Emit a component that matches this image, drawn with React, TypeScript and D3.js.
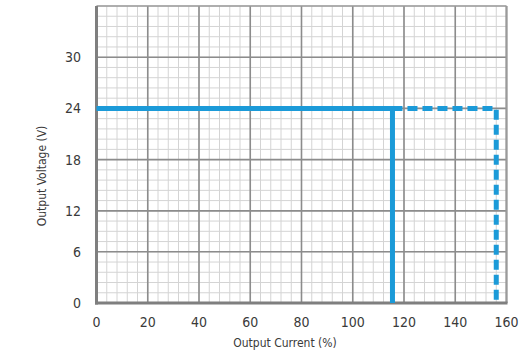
import React, { useEffect, useRef } from "react";
import * as d3 from "d3";

// axis ticks
const currentTicks = [0, 20, 40, 60, 80, 100, 120, 140, 160];
const voltageTicks = [0, 6, 12, 18, 24, 30];
// the original chart spaces its voltage grid unevenly (grid divisions per tick)
const voltageKnots = [0, 6, 12, 36];
const voltageDivs = [0, 5, 9, 29];

// output characteristic: normal limit (solid) and extended limit (dashed)
const limitCurrent = [0, 115.5, 115.5];
const limitVoltage = [24, 24, 0];
const extCurrent = [115.5, 156, 156];
const extVoltage = [24, 24, 0];

const W = 530, H = 355;
const FONT = "'DejaVu Sans', sans-serif";
const BLUE = "#1b9ad8";

export default function App() {
  const ref = useRef<SVGSVGElement>(null);

  useEffect(() => {
    const svg = d3.select(ref.current);
    svg.selectAll("*").remove();

    const left = 96.5, right = 506.5, top = 6, bottom = 303;
    const nDiv = 29;

    const x = d3.scaleLinear().domain([0, 160]).range([left, right]);
    const div = d3.scaleLinear().domain([0, nDiv]).range([bottom, top]);
    const y = d3.scaleLinear().domain(voltageKnots).range(voltageDivs.map((d) => div(d)));

    const g = svg.append("g");

    // minor grid
    g.selectAll(".vminor")
      .data(d3.range(0, 161, 4))
      .enter()
      .append("line")
      .attr("x1", (d) => x(d))
      .attr("x2", (d) => x(d))
      .attr("y1", top)
      .attr("y2", bottom)
      .attr("stroke", "#d4d4d4")
      .attr("stroke-width", 1);

    g.selectAll(".hminor")
      .data(d3.range(0, nDiv + 1))
      .enter()
      .append("line")
      .attr("x1", left)
      .attr("x2", right)
      .attr("y1", (d) => div(d))
      .attr("y2", (d) => div(d))
      .attr("stroke", "#d4d4d4")
      .attr("stroke-width", 1);

    // major grid
    g.selectAll(".vmajor")
      .data(currentTicks)
      .enter()
      .append("line")
      .attr("x1", (d) => x(d))
      .attr("x2", (d) => x(d))
      .attr("y1", top)
      .attr("y2", bottom)
      .attr("stroke", "#8c8c8c")
      .attr("stroke-width", 1.6);

    g.selectAll(".hmajor")
      .data(voltageTicks)
      .enter()
      .append("line")
      .attr("x1", left)
      .attr("x2", right)
      .attr("y1", (d) => y(d))
      .attr("y2", (d) => y(d))
      .attr("stroke", "#8c8c8c")
      .attr("stroke-width", 1.6);

    // frame
    g.append("line")
      .attr("x1", left).attr("x2", right)
      .attr("y1", top).attr("y2", top)
      .attr("stroke", "#9a9a9a").attr("stroke-width", 1.5);
    g.append("line")
      .attr("x1", right).attr("x2", right)
      .attr("y1", top).attr("y2", bottom)
      .attr("stroke", "#9a9a9a").attr("stroke-width", 2);
    g.append("line")
      .attr("x1", left).attr("x2", left)
      .attr("y1", top).attr("y2", bottom + 1.5)
      .attr("stroke", "#7f7f7f").attr("stroke-width", 3);
    g.append("line")
      .attr("x1", left - 1.5).attr("x2", right + 1)
      .attr("y1", bottom).attr("y2", bottom)
      .attr("stroke", "#7f7f7f").attr("stroke-width", 3);

    // curves
    const solid = limitCurrent.map((c, i) => [x(c), y(limitVoltage[i])] as [number, number]);
    const dashed = extCurrent.map((c, i) => [x(c), y(extVoltage[i])] as [number, number]);
    const path = d3.line();

    g.append("path")
      .attr("d", path(dashed))
      .attr("fill", "none")
      .attr("stroke", BLUE)
      .attr("stroke-width", 5)
      .attr("stroke-dasharray", "10,5");

    g.append("path")
      .attr("d", path(solid))
      .attr("fill", "none")
      .attr("stroke", BLUE)
      .attr("stroke-width", 5);

    // tick labels
    const label = (sel: any, size: number) =>
      sel
        .attr("font-family", FONT)
        .attr("font-stretch", "condensed")
        .attr("font-size", size)
        .attr("fill", "#3a3a3a");

    g.selectAll(".xlab")
      .data(currentTicks)
      .enter()
      .append("text")
      .attr("x", (d) => x(d))
      .attr("y", 327)
      .attr("text-anchor", "middle")
      .call(label, 14)
      .text((d) => d);

    g.selectAll(".ylab")
      .data(voltageTicks)
      .enter()
      .append("text")
      .attr("x", 81)
      .attr("y", (d) => y(d) + 5)
      .attr("text-anchor", "end")
      .call(label, 14)
      .text((d) => d);

    // axis titles
    g.append("text")
      .attr("x", 285)
      .attr("y", 347)
      .attr("text-anchor", "middle")
      .call(label, 12)
      .text("Output Current (%)");

    g.append("text")
      .attr("transform", "translate(46,176) rotate(-90)")
      .attr("text-anchor", "middle")
      .call(label, 12)
      .text("Output Voltage (V)");
  }, []);

  return (
    <svg
      ref={ref}
      width={W}
      height={H}
      style={{ position: "absolute", left: 0, top: 0, background: "#fff" }}
    ></svg>
  );
}
